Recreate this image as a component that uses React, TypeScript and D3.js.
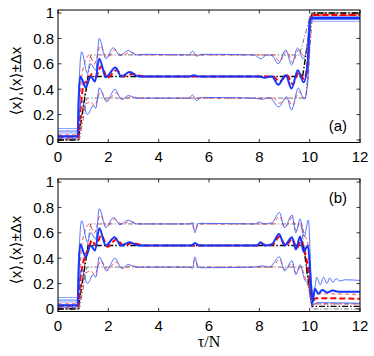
import React from 'react';
import * as d3 from 'd3';

type P = [number, number];

const X_TICKS = [0, 2, 4, 6, 8, 10, 12];
const Y_TICKS = [0, 0.2, 0.4, 0.6, 0.8, 1];
const Y_TICK_LABELS = ['0', '0.2', '0.4', '0.6', '0.8', '1'];
const PANEL_LABELS = ['(a)', '(b)'];
const Y_LABEL = '⟨x⟩,⟨x⟩±Δx';
const X_LABEL = 'τ/N';

// ---------- panel (a) ----------
const aBlackMean: P[] = [[0, 0], [0.8, 0], [1.2, 0.5], [9.72, 0.5], [10.1, 1.0], [12, 1.0]];
const aBlackUpper: P[] = [[0, 0.005], [0.8, 0.005], [1.3, 0.67], [9.6, 0.67], [10.05, 1.0], [12, 1.0]];
const aBlackLower: P[] = [[0, 0], [0.85, 0], [1.15, 0.33], [9.85, 0.33], [10.12, 1.0], [12, 1.0]];

const aRedMean: P[] = [[0, 0.025], [0.8, 0.025], [0.9, 0.25], [1.02, 0.44], [1.2, 0.47], [1.35, 0.52], [1.5, 0.5], [1.72, 0.58], [1.97, 0.49], [2.32, 0.55], [2.6, 0.5], [2.95, 0.52], [3.4, 0.5], [8.55, 0.5], [8.8, 0.46], [9.1, 0.51], [9.32, 0.44], [9.57, 0.53], [9.78, 0.48], [9.92, 0.62], [10.05, 0.975], [10.15, 0.985], [12, 0.985]];
const aRedUpper: P[] = [[0, 0.04], [0.8, 0.04], [0.92, 0.45], [1.05, 0.6], [1.24, 0.67], [1.45, 0.6], [1.68, 0.74], [1.95, 0.65], [2.25, 0.71], [2.55, 0.665], [2.85, 0.69], [3.3, 0.67], [8.55, 0.67], [8.8, 0.62], [9.1, 0.7], [9.32, 0.61], [9.57, 0.71], [9.78, 0.66], [9.92, 0.75], [10.04, 0.985], [10.15, 0.99], [12, 0.99]];
const aRedLower: P[] = [[0, 0.01], [0.82, 0.01], [0.95, 0.22], [1.1, 0.28], [1.3, 0.3], [1.45, 0.27], [1.7, 0.38], [1.97, 0.31], [2.3, 0.37], [2.6, 0.32], [2.9, 0.34], [3.3, 0.33], [8.55, 0.33], [8.8, 0.29], [9.1, 0.33], [9.32, 0.27], [9.57, 0.38], [9.8, 0.33], [9.95, 0.5], [10.07, 0.97], [10.15, 0.98], [12, 0.98]];

const aBlueMean: P[] = [[0, 0.03], [0.78, 0.03], [0.82, 0.3], [0.88, 0.5], [0.95, 0.48], [1.1, 0.415], [1.3, 0.5], [1.47, 0.46], [1.64, 0.64], [1.9, 0.495], [2.28, 0.57], [2.52, 0.5], [2.85, 0.535], [3.2, 0.5], [5.2, 0.5], [5.4, 0.51], [5.6, 0.5], [8.0, 0.5], [8.2, 0.49], [8.5, 0.5], [8.75, 0.435], [9.05, 0.51], [9.28, 0.405], [9.53, 0.55], [9.76, 0.455], [9.92, 0.6], [10.02, 0.95], [10.1, 0.96], [12, 0.96]];
const aBlueUpper: P[] = [[0, 0.07], [0.78, 0.07], [0.85, 0.5], [0.94, 0.695], [1.17, 0.525], [1.3, 0.6], [1.5, 0.55], [1.64, 0.8], [1.9, 0.64], [2.2, 0.727], [2.46, 0.665], [2.79, 0.705], [3.1, 0.67], [3.5, 0.675], [5.2, 0.67], [5.35, 0.7], [5.5, 0.66], [5.7, 0.675], [7.8, 0.67], [8.05, 0.64], [8.3, 0.67], [8.5, 0.665], [8.75, 0.6], [9.05, 0.71], [9.28, 0.59], [9.52, 0.725], [9.74, 0.64], [9.9, 0.75], [10.0, 0.965], [10.1, 0.97], [12, 0.97]];
const aBlueLower: P[] = [[0, 0.015], [0.78, 0.015], [0.85, 0.2], [0.94, 0.315], [1.17, 0.2], [1.4, 0.27], [1.5, 0.25], [1.64, 0.41], [1.93, 0.3], [2.26, 0.4], [2.53, 0.32], [2.8, 0.35], [3.1, 0.33], [5.2, 0.33], [5.35, 0.355], [5.5, 0.31], [5.7, 0.335], [7.8, 0.33], [8.1, 0.32], [8.4, 0.335], [8.77, 0.26], [9.08, 0.34], [9.28, 0.235], [9.55, 0.41], [9.78, 0.32], [9.92, 0.45], [10.03, 0.93], [10.1, 0.95], [12, 0.95]];
const aBlueFaint1: P[] = [[0, 0.09], [0.78, 0.09], [0.82, 0.45]];
const aBlueFaint2: P[] = [[0, 0.055], [0.78, 0.055], [0.82, 0.35]];
const aBlueFaint3: P[] = [[9.95, 0.7], [10.05, 0.935], [12, 0.935]];

// ---------- panel (b) ----------
const bBlackMean: P[] = [[0, 0], [0.8, 0], [1.2, 0.5], [9.75, 0.5], [10.1, 0.02], [12, 0.02]];
const bBlackUpper: P[] = [[0, 0.005], [0.8, 0.005], [1.3, 0.67], [9.65, 0.67], [10.08, 0.04], [12, 0.04]];
const bBlackLower: P[] = [[0, 0], [0.85, 0], [1.15, 0.33], [9.85, 0.33], [10.1, 0.0], [12, 0.0]];

const bRedMean: P[] = [[0, 0.025], [0.8, 0.025], [0.9, 0.25], [1.02, 0.38], [1.2, 0.47], [1.35, 0.54], [1.5, 0.5], [1.72, 0.58], [1.97, 0.49], [2.32, 0.55], [2.6, 0.5], [2.95, 0.52], [3.4, 0.5], [7.9, 0.5], [8.1, 0.515], [8.3, 0.5], [8.55, 0.51], [8.8, 0.57], [9.05, 0.5], [9.3, 0.55], [9.5, 0.48], [9.65, 0.54], [9.8, 0.46], [9.95, 0.3], [10.1, 0.06], [10.25, 0.085], [12, 0.08]];
const bRedUpper: P[] = [[0, 0.04], [0.8, 0.04], [0.92, 0.45], [1.05, 0.6], [1.24, 0.67], [1.45, 0.6], [1.68, 0.74], [1.95, 0.65], [2.25, 0.71], [2.55, 0.665], [2.85, 0.69], [3.3, 0.67], [5.3, 0.67], [5.44, 0.62], [5.6, 0.67], [8.5, 0.67], [8.8, 0.73], [9.02, 0.64], [9.3, 0.72], [9.47, 0.62], [9.63, 0.69], [9.8, 0.58], [9.95, 0.5], [10.08, 0.09], [10.2, 0.12], [12, 0.115]];
const bRedLower: P[] = [[0, 0.01], [0.82, 0.01], [0.95, 0.22], [1.1, 0.28], [1.3, 0.3], [1.45, 0.27], [1.7, 0.38], [1.97, 0.31], [2.3, 0.37], [2.6, 0.32], [2.9, 0.34], [3.3, 0.33], [5.3, 0.33], [5.44, 0.39], [5.6, 0.33], [8.5, 0.33], [8.8, 0.39], [9.02, 0.31], [9.3, 0.36], [9.47, 0.28], [9.63, 0.33], [9.82, 0.25], [9.97, 0.15], [10.1, 0.03], [10.25, 0.04], [12, 0.04]];

const bBlueMean: P[] = [[0, 0.03], [0.78, 0.03], [0.82, 0.3], [0.88, 0.51], [1.1, 0.41], [1.3, 0.5], [1.47, 0.46], [1.64, 0.635], [1.9, 0.5], [2.25, 0.565], [2.5, 0.5], [2.85, 0.525], [3.2, 0.5], [5.3, 0.5], [5.45, 0.52], [5.6, 0.5], [7.9, 0.5], [8.05, 0.525], [8.2, 0.5], [8.5, 0.51], [8.78, 0.59], [9.0, 0.5], [9.3, 0.565], [9.45, 0.47], [9.62, 0.57], [9.76, 0.45], [9.93, 0.5], [10.05, 0.2], [10.12, 0.05], [10.2, 0.16], [10.35, 0.12], [10.5, 0.15], [10.7, 0.13], [10.9, 0.145], [11.2, 0.135], [12, 0.135]];
const bBlueUpper: P[] = [[0, 0.07], [0.78, 0.07], [0.85, 0.5], [0.94, 0.695], [1.17, 0.525], [1.3, 0.6], [1.5, 0.55], [1.64, 0.79], [1.9, 0.64], [2.2, 0.72], [2.46, 0.665], [2.79, 0.7], [3.1, 0.67], [5.2, 0.67], [5.35, 0.68], [5.44, 0.6], [5.55, 0.67], [5.7, 0.675], [7.8, 0.67], [8.0, 0.685], [8.2, 0.67], [8.5, 0.68], [8.8, 0.76], [9.0, 0.64], [9.3, 0.74], [9.45, 0.6], [9.62, 0.71], [9.78, 0.57], [9.95, 0.7], [10.07, 0.2], [10.15, 0.1], [10.28, 0.25], [10.42, 0.19], [10.55, 0.25], [10.68, 0.2], [10.8, 0.245], [10.93, 0.21], [11.05, 0.24], [11.2, 0.22], [11.4, 0.23], [12, 0.225]];
const bBlueLower: P[] = [[0, 0.015], [0.78, 0.015], [0.85, 0.2], [0.94, 0.315], [1.17, 0.2], [1.4, 0.27], [1.5, 0.25], [1.64, 0.41], [1.93, 0.3], [2.26, 0.4], [2.53, 0.32], [2.8, 0.35], [3.1, 0.33], [5.2, 0.33], [5.35, 0.32], [5.44, 0.41], [5.55, 0.33], [5.7, 0.325], [7.8, 0.33], [8.1, 0.34], [8.4, 0.33], [8.8, 0.41], [9.0, 0.3], [9.3, 0.38], [9.45, 0.27], [9.62, 0.35], [9.8, 0.23], [9.95, 0.2], [10.05, 0.05], [10.12, 0.03], [10.3, 0.05], [12, 0.045]];
const bBlueFaint1: P[] = [[0, 0.09], [0.78, 0.09], [0.82, 0.45]];
const bBlueFaint2: P[] = [[0, 0.055], [0.78, 0.055], [0.82, 0.35]];

// ---------- styles ----------
type StyleKey = 'blackMean' | 'blackPM' | 'redMean' | 'redPM' | 'blueMean' | 'bluePM' | 'blueFaint';
const STYLES: Record<StyleKey, { stroke: string; width: number; dash?: string; opacity?: number }> = {
  blackPM: { stroke: '#666', width: 0.9, dash: '5,2,1.2,2' },
  blackMean: { stroke: '#000', width: 1.4, dash: '6,2,1.5,2' },
  redPM: { stroke: '#ff2a2a', width: 1, dash: '4,3', opacity: 0.85 },
  redMean: { stroke: '#ff0000', width: 2, dash: '6,3' },
  blueFaint: { stroke: '#8ea4ff', width: 1 },
  bluePM: { stroke: '#3a5cff', width: 1, opacity: 0.85 },
  blueMean: { stroke: '#1436ff', width: 2 },
};

type Series = { data: P[]; style: StyleKey; smooth: boolean };

const PANEL_SERIES: Series[][] = [
  [
    { data: aBlackUpper, style: 'blackPM', smooth: false },
    { data: aBlackLower, style: 'blackPM', smooth: false },
    { data: aBlackMean, style: 'blackMean', smooth: false },
    { data: aRedUpper, style: 'redPM', smooth: true },
    { data: aRedLower, style: 'redPM', smooth: true },
    { data: aRedMean, style: 'redMean', smooth: true },
    { data: aBlueFaint1, style: 'blueFaint', smooth: false },
    { data: aBlueFaint2, style: 'blueFaint', smooth: false },
    { data: aBlueFaint3, style: 'blueFaint', smooth: true },
    { data: aBlueUpper, style: 'bluePM', smooth: true },
    { data: aBlueLower, style: 'bluePM', smooth: true },
    { data: aBlueMean, style: 'blueMean', smooth: true },
  ],
  [
    { data: bBlackUpper, style: 'blackPM', smooth: false },
    { data: bBlackLower, style: 'blackPM', smooth: false },
    { data: bBlackMean, style: 'blackMean', smooth: false },
    { data: bRedUpper, style: 'redPM', smooth: true },
    { data: bRedLower, style: 'redPM', smooth: true },
    { data: bRedMean, style: 'redMean', smooth: true },
    { data: bBlueFaint1, style: 'blueFaint', smooth: false },
    { data: bBlueFaint2, style: 'blueFaint', smooth: false },
    { data: bBlueUpper, style: 'bluePM', smooth: true },
    { data: bBlueLower, style: 'bluePM', smooth: true },
    { data: bBlueMean, style: 'blueMean', smooth: true },
  ],
];

const W = 374;
const H = 356;
const LEFT = 58;
const RIGHT = 360;
const PANEL_H = 132.5;
const PANEL_TOPS = [10, 179];
const SANS = '"Liberation Sans", Arial, "DejaVu Sans", sans-serif';
const SERIF = '"Liberation Serif", "Times New Roman", "DejaVu Serif", serif';
const TICK = 3.5;

function Panel({ idx }: { idx: number }) {
  const top = PANEL_TOPS[idx];
  const bottom = top + PANEL_H;
  const x = d3.scaleLinear().domain([0, 12]).range([LEFT, RIGHT]);
  const y = d3.scaleLinear().domain([-0.02, 1.024]).range([bottom, top]);
  const smoothLine = d3.line<P>().x((d) => x(d[0])).y((d) => y(d[1])).curve(d3.curveMonotoneX);
  const straightLine = d3.line<P>().x((d) => x(d[0])).y((d) => y(d[1])).curve(d3.curveLinear);
  const clipId = `clip-${idx}`;
  return (
    <g>
      <defs>
        <clipPath id={clipId}>
          <rect x={LEFT} y={top} width={RIGHT - LEFT} height={PANEL_H} />
        </clipPath>
      </defs>
      <g clipPath={`url(#${clipId})`}>
        {PANEL_SERIES[idx].map((s, i) => {
          const st = STYLES[s.style];
          return (
            <path
              key={i}
              d={(s.smooth ? smoothLine : straightLine)(s.data) || ''}
              fill="none"
              stroke={st.stroke}
              strokeWidth={st.width}
              strokeDasharray={st.dash}
              strokeOpacity={st.opacity ?? 1}
              strokeLinejoin="round"
            />
          );
        })}
      </g>
      <rect x={LEFT} y={top} width={RIGHT - LEFT} height={PANEL_H} fill="none" stroke="#000" strokeWidth={1} />
      {X_TICKS.map((t) => (
        <g key={`xt${t}`}>
          <line x1={x(t)} x2={x(t)} y1={bottom} y2={bottom - TICK} stroke="#000" strokeWidth={0.8} />
          <line x1={x(t)} x2={x(t)} y1={top} y2={top + TICK} stroke="#000" strokeWidth={0.8} />
          <text x={x(t)} y={bottom + 19.5} textAnchor="middle" fontSize={15} fontFamily={SANS} fill="#000">
            {String(t)}
          </text>
        </g>
      ))}
      {Y_TICKS.map((t, i) => (
        <g key={`yt${t}`}>
          <line x1={LEFT} x2={LEFT + TICK} y1={y(t)} y2={y(t)} stroke="#000" strokeWidth={0.8} />
          <line x1={RIGHT} x2={RIGHT - TICK} y1={y(t)} y2={y(t)} stroke="#000" strokeWidth={0.8} />
          <text x={54} y={y(t)} dy="0.36em" textAnchor="end" fontSize={15} fontFamily={SANS} fill="#000">
            {Y_TICK_LABELS[i]}
          </text>
        </g>
      ))}
      <text
        transform={`translate(21,${top + 71}) rotate(-90)`}
        textAnchor="middle"
        fontSize={15}
        fontFamily={SANS}
        fill="#000"
      >
        {Y_LABEL}
      </text>
      <text
        x={347}
        y={idx === 0 ? bottom - 12 : top + 24}
        textAnchor="end"
        fontSize={15}
        fontFamily={SANS}
        fill="#000"
      >
        {PANEL_LABELS[idx]}
      </text>
    </g>
  );
}

export default function App() {
  return (
    <svg
      width={W}
      height={H}
      viewBox={`0 0 ${W} ${H}`}
      style={{ position: 'absolute', left: 0, top: 0, background: '#fff' }}
    >
      <rect x={0} y={0} width={W} height={H} fill="#fff" />
      <Panel idx={0} />
      <Panel idx={1} />
      <text x={209} y={347} textAnchor="middle" fontSize={16} fontFamily={SERIF} fill="#000">
        {X_LABEL}
      </text>
    </svg>
  );
}
